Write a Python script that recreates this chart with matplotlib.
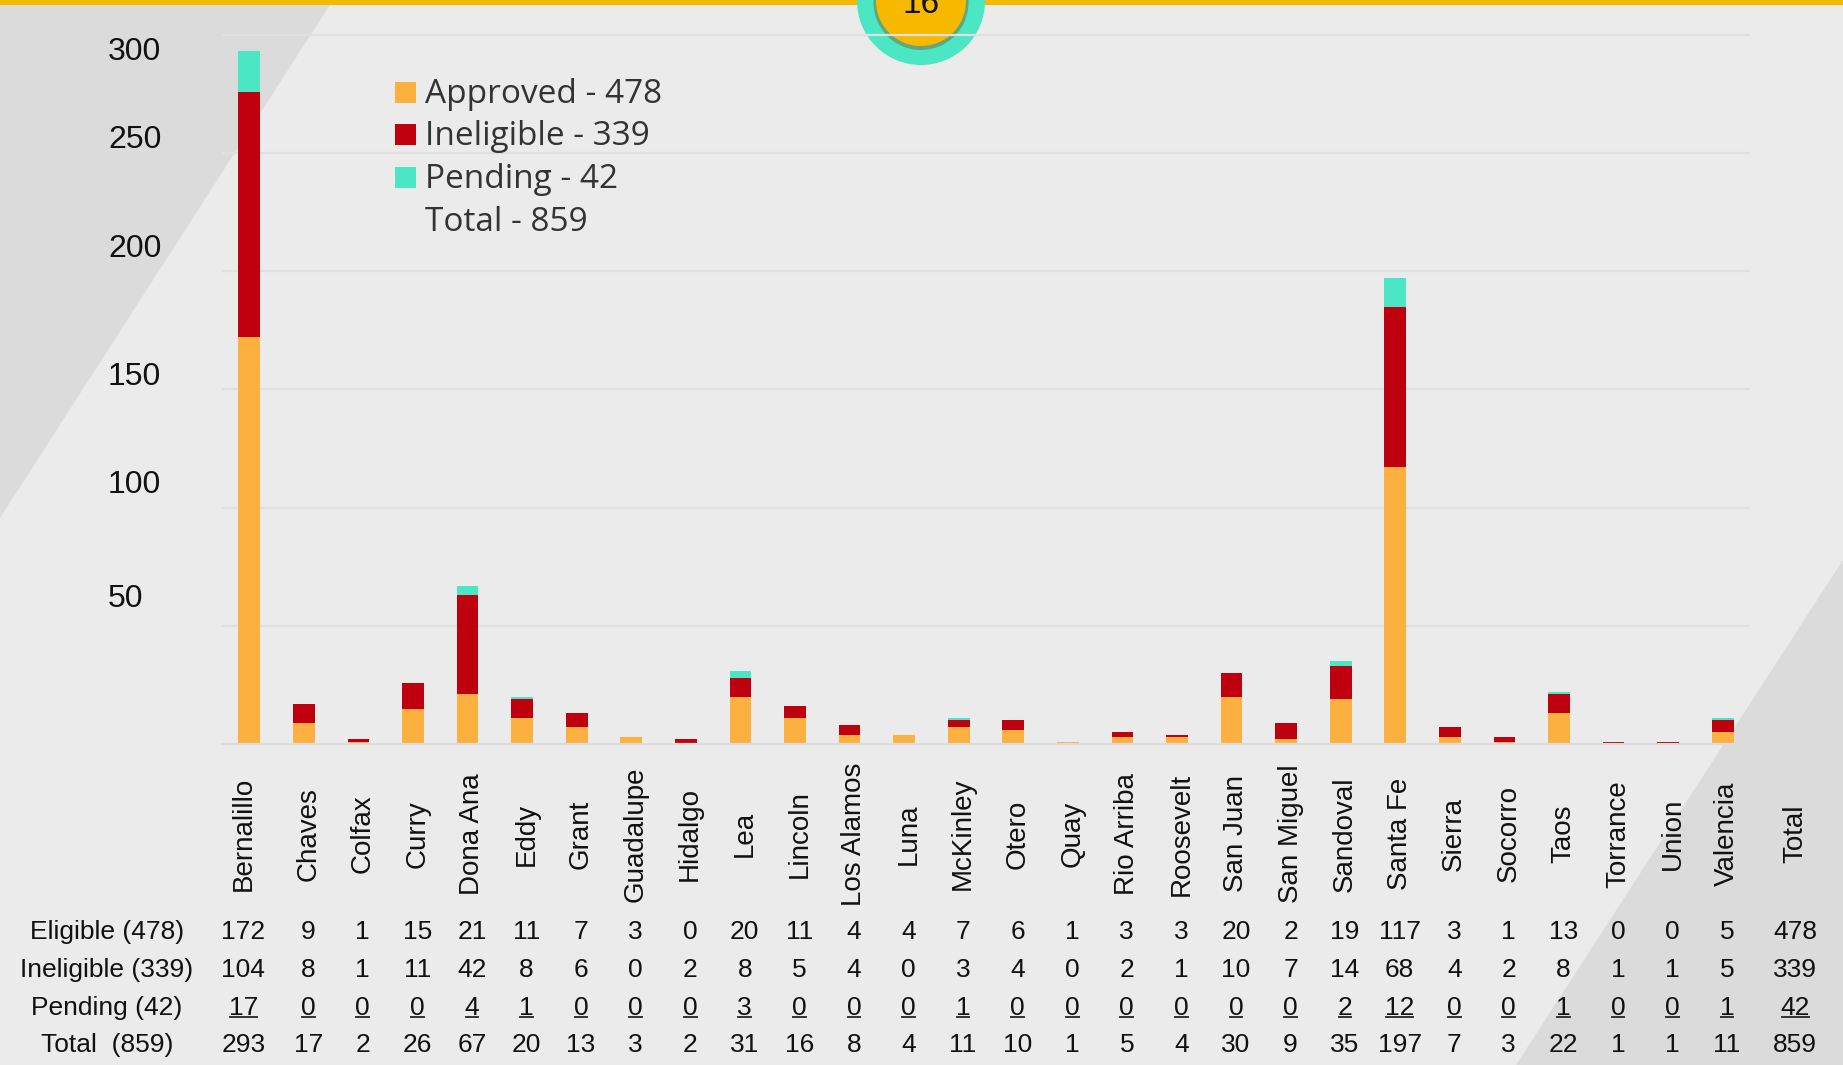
import numpy as np
import matplotlib
matplotlib.use("Agg")
import matplotlib.pyplot as plt
from matplotlib.patches import Polygon, Rectangle, Circle
from matplotlib.lines import Line2D
from matplotlib.transforms import IdentityTransform, blended_transform_factory, ScaledTranslation

# ---------------- data ----------------
counties = ["Bernalillo", "Chaves", "Colfax", "Curry", "Dona Ana", "Eddy", "Grant",
            "Guadalupe", "Hidalgo", "Lea", "Lincoln", "Los Alamos", "Luna", "McKinley",
            "Otero", "Quay", "Rio Arriba", "Roosevelt", "San Juan", "San Miguel",
            "Sandoval", "Santa Fe", "Sierra", "Socorro", "Taos", "Torrance", "Union",
            "Valencia"]
eligible = [172, 9, 1, 15, 21, 11, 7, 3, 0, 20, 11, 4, 4, 7, 6, 1, 3, 3, 20, 2, 19,
            117, 3, 1, 13, 0, 0, 5]
ineligible = [104, 8, 1, 11, 42, 8, 6, 0, 2, 8, 5, 4, 0, 3, 4, 0, 2, 1, 10, 7, 14,
              68, 4, 2, 8, 1, 1, 5]
pending = [17, 0, 0, 0, 4, 1, 0, 0, 0, 3, 0, 0, 0, 1, 0, 0, 0, 0, 0, 0, 2, 12, 0, 0,
           1, 0, 0, 1]
totals = [293, 17, 2, 26, 67, 20, 13, 3, 2, 31, 16, 8, 4, 11, 10, 1, 5, 4, 30, 9, 35,
          197, 7, 3, 22, 1, 1, 11]
grand = {"Eligible": 478, "Ineligible": 339, "Pending": 42, "Total": 859}
row_labels = ["Eligible (478)", "Ineligible (339)", "Pending (42)", "Total  (859)"]
legend_labels = ["Approved - 478", "Ineligible - 339", "Pending - 42", "Total - 859"]
yticks = [50, 100, 150, 200, 250, 300]
slide_number = "16"

# ---------------- style ----------------
W, H = 1843, 1065
BG = "#EBEBEB"
TRI = "#DBDBDB"
GRID = "#E0E0E0"
C_APP = "#FBB040"
C_INE = "#BE000F"
C_PEN = "#4BE6C3"
YELLOW = "#F6B900"
NUMFONT = "Liberation Sans"
LEGFONT = "Open Sans"

def fx(x):
    return x / W

def fy(y):
    return 1 - y / H

fig = plt.figure(figsize=(W / 100, H / 100), dpi=100, facecolor=BG)

# decorative background triangles
fig.add_artist(Polygon([(fx(0), fy(0)), (fx(333), fy(0)), (fx(0), fy(518))],
                       closed=True, transform=fig.transFigure, facecolor=TRI,
                       edgecolor="none", zorder=0.1))
fig.add_artist(Polygon([(fx(W), fy(560)), (fx(W), fy(H)), (fx(1516), fy(H))],
                       closed=True, transform=fig.transFigure, facecolor=TRI,
                       edgecolor="none", zorder=0.1))

# top yellow bar
fig.add_artist(Rectangle((0, fy(5)), 1, 5 / H, transform=fig.transFigure,
                         facecolor=YELLOW, edgecolor="none", zorder=0.2))

# slide-number badge (pixel coordinates)
cx, cy = 921, H - 1
fig.add_artist(Circle((cx, cy), 64, transform=IdentityTransform(), facecolor=C_PEN,
                      edgecolor="none", zorder=0.3))
fig.add_artist(Circle((cx, cy - 1.5), 47.5, transform=IdentityTransform(),
                      facecolor="#7a6a35", alpha=0.5, edgecolor="none", zorder=0.31))
fig.add_artist(Circle((cx, cy), 45, transform=IdentityTransform(), facecolor=YELLOW,
                      edgecolor="none", zorder=0.32))
fig.text(cx / W, fy(13), slide_number, fontsize=24, family=NUMFONT,
         color="#111111", ha="center", va="baseline", zorder=0.33)

# ---------------- axes ----------------
base_px = 744
px_per_unit = 118.2 / 50
ymax = 302
top_px = base_px - ymax * px_per_unit
left_px, right_px = 222, 1750
ax = fig.add_axes([fx(left_px), fy(base_px), (right_px - left_px) / W,
                   (base_px - top_px) / H])
ax.set_zorder(1)
ax.patch.set_alpha(0)
ax.set_xlim(-0.5, len(counties) - 0.5)
ax.set_ylim(0, ymax)

x = np.arange(len(counties))
e = np.array(eligible)
i_ = np.array(ineligible)
p = np.array(pending)
bw = 0.40
ax.bar(x, e, bw, color=C_APP, linewidth=0, zorder=2)
ax.bar(x, i_, bw, bottom=e, color=C_INE, linewidth=0, zorder=2)
ax.bar(x, p, bw, bottom=e + i_, color=C_PEN, linewidth=0, zorder=2)

ax.set_yticks(yticks)
ax.yaxis.grid(True, color=GRID, linewidth=1.6)
ax.set_axisbelow(True)
ax.tick_params(left=False, bottom=False, labelleft=False, labelbottom=False)
for s in ["top", "right", "left"]:
    ax.spines[s].set_visible(False)
ax.spines["bottom"].set_color("#DCDCDC")
ax.spines["bottom"].set_linewidth(1.6)

# y tick labels (offsets reproduce the reference's placement, in px; + = down)
ylab_offsets = {50: 19, 100: 15, 150: 4, 200: 14, 250: 5, 300: -25}
ytrans = blended_transform_factory(fig.transFigure, ax.transData)
for v in yticks:
    off = ScaledTranslation(0, ylab_offsets[v] / 100.0, fig.dpi_scale_trans)
    fig.text(fx(108), v, str(v), transform=ytrans + off, fontsize=23, family=NUMFONT,
             color="#111111", ha="left", va="baseline")

# label / table columns: slightly right of each bar, as on the slide;
# first column sits a little left, "Total" column beyond the last bar
label_x = list(x + 0.08)
label_x[0] = -0.11
label_x.append(len(counties) + 0.33)
xtrans = blended_transform_factory(ax.transData, fig.transFigure)
for xi, name in zip(label_x, counties + ["Total"]):
    ax.text(xi, fy(834), name, transform=xtrans, rotation=90, fontsize=20,
            family=NUMFONT, color="#111111", ha="center", va="center", clip_on=False)

# table
row_base = [939, 977, 1015, 1052]
rows = [eligible + [grand["Eligible"]], ineligible + [grand["Ineligible"]],
        pending + [grand["Pending"]], totals + [grand["Total"]]]
pend_texts = []
for r, (lab, vals, yb) in enumerate(zip(row_labels, rows, row_base)):
    fig.text(fx(107), fy(yb), lab, fontsize=19, family=NUMFONT, color="#111111",
             ha="center", va="baseline")
    for xi, v in zip(label_x, vals):
        t = ax.text(xi, fy(yb), str(v), transform=xtrans, fontsize=19,
                    family=NUMFONT, color="#111111", ha="center", va="baseline",
                    clip_on=False)
        if r == 2:
            pend_texts.append(t)

# legend (manual, to match slide layout)
leg_base = [103, 145, 188, 231]
leg_cols = [C_APP, C_INE, C_PEN, None]
for lab, yb, col in zip(legend_labels, leg_base, leg_cols):
    if col is not None:
        fig.add_artist(Rectangle((fx(395), fy(yb)), 21 / W, 21 / H,
                                 transform=fig.transFigure, facecolor=col,
                                 edgecolor="none", zorder=3))
    fig.text(fx(425), fy(yb), lab, fontsize=24, family=LEGFONT, color="#333333",
             ha="left", va="baseline", zorder=3)

# underline the pending row
fig.canvas.draw()
renderer = fig.canvas.get_renderer()
for t in pend_texts:
    bb = t.get_window_extent(renderer)
    ybase = bb.y0 + 3.5
    fig.add_artist(Line2D([bb.x0 + 1, bb.x1 - 1], [ybase, ybase],
                          transform=IdentityTransform(), color="#333333",
                          linewidth=1.4, zorder=3))

fig.savefig("out.png", dpi=100, facecolor=BG)
